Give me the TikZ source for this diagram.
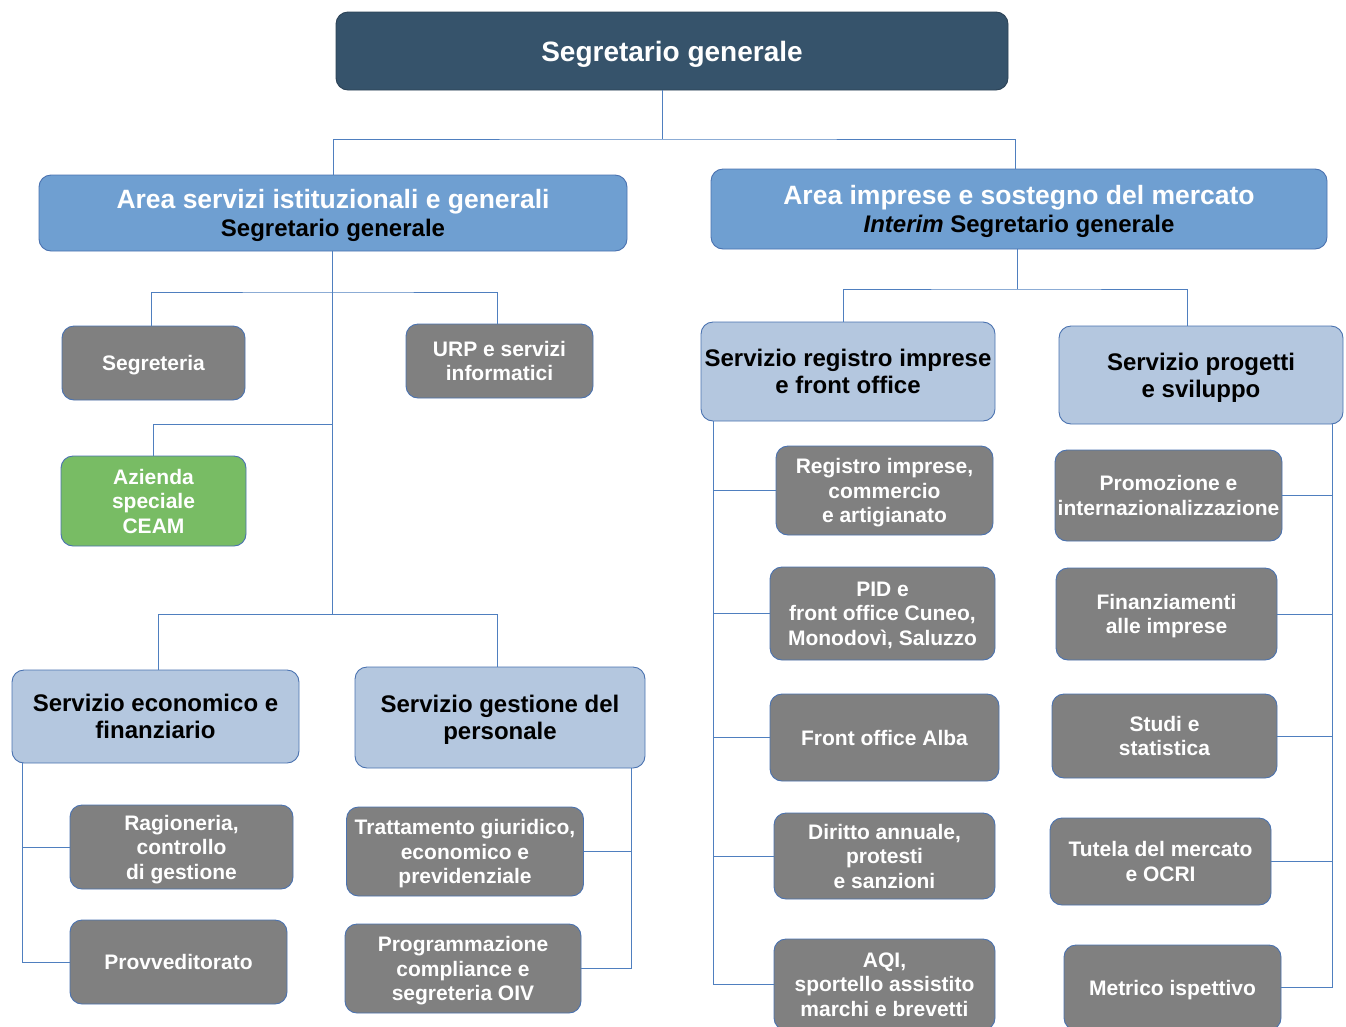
\documentclass[tikz,border=0pt]{standalone}
\usepackage{fontspec}
\setmainfont{Liberation Sans}
\usepackage{xcolor}
\usetikzlibrary{calc}

\definecolor{topslate}{HTML}{36536B}
\definecolor{areablue}{HTML}{6F9FD1}
\definecolor{srvblue}{HTML}{B4C7DF}
\definecolor{unitgray}{HTML}{808080}
\definecolor{ceamgreen}{HTML}{78BC64}
\definecolor{edgeblue}{HTML}{4A72B0}
\definecolor{linkblue}{HTML}{4F7FBF}

\tikzset{
    box/.style={draw=edgeblue, line width=0.9pt, rounded corners=12pt, inner sep=0pt, text depth=0pt, align=center},
    topbox/.style={box, draw=topslate!80!black, fill=topslate, text=white, font=\bfseries\fontsize{28}{32}\selectfont},
    areabox/.style={box, fill=areablue, font=\bfseries\fontsize{24}{28}\selectfont},
    srvbox/.style={box, fill=srvblue, font=\bfseries\fontsize{24}{27}\selectfont},
    unitbox/.style={box, fill=unitgray, text=white, font=\bfseries\fontsize{21}{24.5}\selectfont},
    ceambox/.style={unitbox, fill=ceamgreen},
    link/.style={draw=linkblue, line width=1pt}
}

\begin{document}
\begin{tikzpicture}[x=1pt, y=-1pt]
    \useasboundingbox (0,0) rectangle (1346,1026);

    % Top box
    \node[topbox, minimum width=672, minimum height=78] (top) at (672,51) {Segretario generale};

    % The two areas
    \node[areabox, minimum width=588, minimum height=76] (areaL) at (333,213)
        {\textcolor{white}{\fontsize{26.5}{28}\selectfont Area servizi istituzionali e generali}\\Segretario generale};
    \node[areabox, minimum width=616, minimum height=80] (areaR) at (1019,209)
        {\textcolor{white}{\fontsize{26.5}{28}\selectfont Area imprese e sostegno del mercato}\\\textit{Interim} Segretario generale};

    % Left area: staff units
    \node[unitbox, minimum width=183, minimum height=74] (segr) at (153.5,363) {Segreteria};
    \node[unitbox, minimum width=187, minimum height=74] (urp) at (499.5,361) {URP e servizi\\informatici};
    \node[ceambox, minimum width=185, minimum height=90] (ceam) at (153.5,501) {Azienda\\speciale\\CEAM};

    % Left area: services
    \node[srvbox, minimum width=287, minimum height=93] (econ) at (155.5,716.5) {Servizio economico e\\finanziario};
    \node[srvbox, minimum width=290, minimum height=101] (pers) at (500,717.5) {Servizio gestione del\\personale};

    \node[unitbox, minimum width=223, minimum height=84] (ragio) at (181.5,847) {Ragioneria,\\controllo\\di gestione};
    \node[unitbox, minimum width=217, minimum height=84] (provv) at (178.5,962) {Provveditorato};
    \node[unitbox, minimum width=237, minimum height=89] (tratt) at (465,851.5) {Trattamento giuridico,\\economico e\\previdenziale};
    \node[unitbox, minimum width=236, minimum height=89] (progr) at (463,968.5) {Programmazione\\compliance e\\segreteria OIV};

    % Right area: services
    \node[srvbox, minimum width=294, minimum height=99] (regsrv) at (848,371.5) {Servizio registro imprese\\e front office};
    \node[srvbox, minimum width=284, minimum height=98] (progsrv) at (1201,375) {Servizio progetti\\e sviluppo};

    \node[unitbox, minimum width=217, minimum height=89] (ri) at (884.5,490.5) {Registro imprese,\\commercio\\e artigianato};
    \node[unitbox, minimum width=225, minimum height=93] (pid) at (882.5,613.5) {PID e\\front office Cuneo,\\Monodovì, Saluzzo};
    \node[unitbox, minimum width=229, minimum height=87] (alba) at (884.5,737.5) {Front office Alba};
    \node[unitbox, minimum width=221, minimum height=86] (dir) at (884.5,856) {Diritto annuale,\\protesti\\e sanzioni};
    \node[unitbox, minimum width=221, minimum height=91] (aqi) at (884.5,984.5) {AQI,\\sportello assistito\\marchi e brevetti};

    \node[unitbox, minimum width=227, minimum height=91] (promo) at (1168.5,495.5) {Promozione e\\internazionalizzazione};
    \node[unitbox, minimum width=221, minimum height=92] (fin) at (1166.5,614) {Finanziamenti\\alle imprese};
    \node[unitbox, minimum width=225, minimum height=84] (studi) at (1164.5,736) {Studi e\\statistica};
    \node[unitbox, minimum width=221, minimum height=87] (tutela) at (1160.5,861.5) {Tutela del mercato\\e OCRI};
    \node[unitbox, minimum width=217, minimum height=85] (metr) at (1172.5,987.5) {Metrico ispettivo};

    % Connectors from the top
    \coordinate (jtop) at (662,139);
    \draw[link] ([xshift=-10pt]top.south) -- (jtop);
    \draw[link] (areaL.north) |- (jtop) -| ([xshift=-4pt]areaR.north);

    % Left area tree
    \coordinate (jl1) at (332,292);
    \coordinate (jl2) at (332,424);
    \coordinate (jl3) at (332,614);
    \draw[link] ([xshift=-1pt]areaL.south) -- (jl3);
    \draw[link] ([xshift=-2pt]segr.north) |- (jl1) -| ([xshift=-2pt]urp.north);
    \draw[link] (ceam.north) |- (jl2);
    \draw[link] ([xshift=3pt]econ.north) |- (jl3) -| ([xshift=-3pt]pers.north);
    \foreach \n in {ragio,provv}
        \draw[link] ([xshift=11pt]econ.south west) |- (\n.west);
    \foreach \n in {tratt,progr}
        \draw[link] ([xshift=-14pt]pers.south east) |- (\n.east);

    % Right area tree
    \coordinate (jr) at (1017,289);
    \draw[link] ([xshift=-2pt]areaR.south) -- (jr);
    \draw[link] ([xshift=-5pt]regsrv.north) |- (jr) -| ([xshift=-14pt]progsrv.north);
    \foreach \n in {ri,pid,alba,dir,aqi}
        \draw[link] ([xshift=13pt]regsrv.south west) |- (\n.west);
    \foreach \n in {promo,fin,studi,tutela,metr}
        \draw[link] ([xshift=-11pt]progsrv.south east) |- (\n.east);

\end{tikzpicture}
\end{document}
